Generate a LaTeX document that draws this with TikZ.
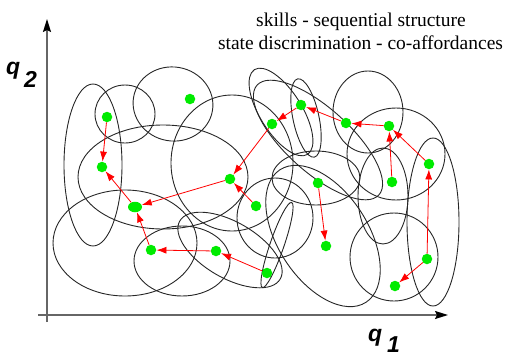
\documentclass[tikz,border=0pt]{standalone}
\usepackage{fontspec}
\setmainfont{Liberation Serif}
\newfontfamily\labfont{Liberation Sans}
\usetikzlibrary{arrows.meta,shapes.geometric}
\definecolor{dotgreen}{RGB}{0,235,0}
\newcommand\myell[5]{\draw[elline, rotate around={#5:(#1,#2)}] (#1,#2) ellipse [x radius=#3pt, y radius=#4pt];}
\begin{document}
\begin{tikzpicture}[x=1pt,y=-1pt,
  elline/.style={draw=black!85, line width=0.9pt},
  dot/.style={circle, fill=dotgreen, inner sep=0pt, minimum size=10.5pt},
  flow/.style={draw=red, line width=0.8pt, -{Latex[length=10pt,width=7pt]}},
  axis/.style={draw=black!60, line width=1.6pt},
  lab/.style={font=\labfont\bfseries\itshape\fontsize{23}{23}\selectfont, inner sep=0pt},
  title/.style={font=\fontsize{19.5}{22}\selectfont, inner sep=0pt}
]
\useasboundingbox (0,0) rectangle (508,356);
% ellipses
\myell{93}{165}{29}{81}{0}
\myell{125}{114}{30}{29}{0}
\myell{173}{104}{40}{37}{-10}
\myell{163}{177}{85}{52}{0}
\myell{232}{163}{61}{68}{0}
\myell{281}{112}{50}{21}{-58}
\myell{306}{118}{40}{13}{-78}
\myell{368}{112}{35}{41}{0}
\myell{396}{154}{49}{46}{0}
\myell{433}{222}{26}{84}{0}
\myell{383}{196}{25}{48}{0}
\myell{394}{257}{44}{44}{0}
\myell{275}{218}{38}{40}{0}
\myell{125}{243}{72}{53}{0}
\myell{182}{261}{48}{35}{0}
\myell{230}{250}{58}{28}{-30}
\myell{277}{245}{45}{7}{71}
\myell{316}{178}{44}{27}{0}
\myell{323}{236}{79}{45}{-57}
\myell{318}{140}{82}{32}{-42}
% axes
\coordinate (ybot) at (47,322);
\coordinate (ytop) at (47,19);
\coordinate (xleft) at (38,315);
\coordinate (xright) at (448,315);
\draw[axis, -{Stealth[length=13pt,width=8pt,inset=2pt,color=black]}] (ybot) -- (ytop);
\draw[axis, -{Stealth[length=13pt,width=8pt,inset=2pt,color=black]}] (xleft) -- (xright);
% labels
\node[lab, anchor=base west] (q2) at (6,74) {q};
\node[lab, anchor=base west] (q2s) at (24,87) {2};
\node[lab, anchor=base west] (q1) at (368,341) {q};
\node[lab, anchor=base west] (q1s) at (387,352) {1};
\node[title, anchor=base] (t1) at (361,27) {skills - sequential structure};
\node[title, anchor=base] (t2) at (360.5,49) {state discrimination - co-affordances};
% dots
\node[dot] (p1) at (107,117) {};
\node[dot] (p2) at (102,167) {};
\node[dot] (p3) at (190,99) {};
\node[dot, ellipse, minimum width=14pt, minimum height=10.5pt] (p4) at (135,207) {};
\node[dot] (p5) at (151,250) {};
\node[dot] (p6) at (216,251) {};
\node[dot] (p7) at (267,273) {};
\node[dot] (p8) at (230,179) {};
\node[dot] (p9) at (256,206) {};
\node[dot] (p10) at (272,124) {};
\node[dot] (p11) at (301,105) {};
\node[dot] (p12) at (346,123) {};
\node[dot] (p13) at (389,126) {};
\node[dot] (p14) at (392,182) {};
\node[dot] (p15) at (429,164) {};
\node[dot] (p16) at (318,183) {};
\node[dot] (p17) at (326,246) {};
\node[dot] (p18) at (427,259) {};
\node[dot] (p19) at (395,286) {};
% arrows
\draw[flow] (p1) -- (p2);
\draw[flow] (p4) -- (p2);
\draw[flow] (p8) -- (p4);
\draw[flow] (p5) -- (p4);
\draw[flow] (p6) -- (p5);
\draw[flow] (p7) -- (p6);
\draw[flow] (p9) -- (p8);
\draw[flow] (p10) -- (p8);
\draw[flow] (p11) -- (p10);
\draw[flow] (p12) -- (p11);
\draw[flow] (p13) -- (p12);
\draw[flow] (p14) -- (p13);
\draw[flow] (p15) -- (p13);
\draw[flow] (p18) -- (p15);
\draw[flow] (p18) -- (p19);
\draw[flow] (p16) -- (p17);
\end{tikzpicture}
\end{document}
